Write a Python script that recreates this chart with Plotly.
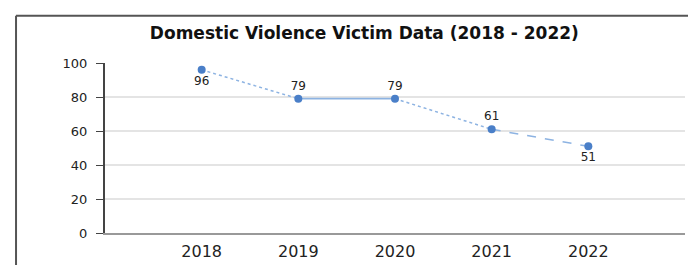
import plotly.graph_objects as go

years = ["2018", "2019", "2020", "2021", "2022"]
victims = [96, 79, 79, 61, 51]
label_positions = ["bottom center", "top center", "top center", "top center", "bottom center"]
segment_dashes = ["dot", "solid", "dot", "dash"]

line_color = "#8db3e2"
marker_color = "#4a7fc8"
font_family = "DejaVu Sans, Liberation Sans, Arial, sans-serif"

fig = go.Figure()

for i, dash in enumerate(segment_dashes):
    fig.add_trace(go.Scatter(
        x=years[i:i + 2], y=victims[i:i + 2], mode="lines",
        line=dict(color=line_color, width=1.8 if dash == "solid" else 1.5, dash=dash),
        hoverinfo="skip", showlegend=False,
    ))

fig.add_trace(go.Scatter(
    x=years, y=victims, mode="markers+text",
    marker=dict(color=marker_color, size=8),
    text=[str(v) for v in victims], textposition=label_positions,
    textfont=dict(family=font_family, size=12, color="#222222"),
    showlegend=False,
))

fig.update_layout(
    width=696, height=265,
    margin=dict(l=97, r=19, t=55, b=37),
    paper_bgcolor="white", plot_bgcolor="white",
    title=dict(
        text="<b>Domestic Violence Victim Data (2018 - 2022)</b>",
        font=dict(family=font_family, size=17, color="#111111"),
        x=0.512, xref="container", xanchor="center",
        y=0.906, yref="container", yanchor="middle",
    ),
    xaxis=dict(
        type="category", range=[-1, 5],
        showgrid=False, showline=True, linecolor="#999999", linewidth=2,
        ticks="", tickfont=dict(family=font_family, size=16, color="#222222"),
        ticklabelstandoff=3,
    ),
    yaxis=dict(
        range=[0, 100], dtick=20,
        showgrid=True, gridcolor="#e4e4e4", gridwidth=2,
        zeroline=False,
        showline=True, linecolor="#444444", linewidth=2,
        ticks="outside", ticklen=7, tickcolor="#444444", tickwidth=1,
        tickfont=dict(family=font_family, size=13, color="#222222"),
        ticklabelstandoff=6,
    ),
    shapes=[
        dict(type="line", xref="paper", yref="paper", x0=-0.1534, x1=-0.1534, y0=-0.4, y1=1.2775,
             line=dict(color="#555555", width=2)),
        dict(type="line", xref="paper", yref="paper", x0=-0.1534, x1=1.2, y0=1.2775, y1=1.2775,
             line=dict(color="#555555", width=2)),
    ],
)

fig.write_html("out.html")
